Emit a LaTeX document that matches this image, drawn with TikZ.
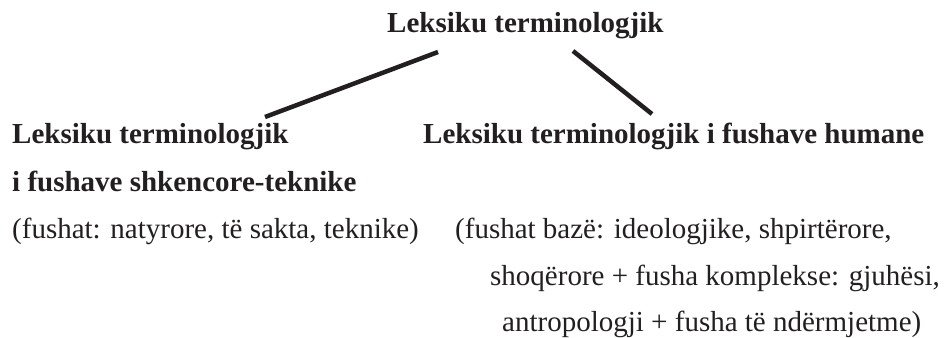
\documentclass[tikz,border=0pt]{standalone}
\usepackage{fontspec}
\setmainfont{Liberation Serif}
\definecolor{ink}{HTML}{231F20}
\begin{document}
\begin{tikzpicture}[x=1pt,y=-1pt,
  txt/.style={anchor=base west, inner sep=0pt, text=ink, font=\fontsize{29}{34}\selectfont},
  head/.style={txt, font=\fontsize{29}{34}\selectfont\bfseries},
  link/.style={draw=ink, line width=4.5pt}]
\useasboundingbox (0,0) rectangle (944,337);

% root
\node[head] (root) at (387,33) {Leksiku terminologjik};

% left branch
\node[head] (lh1) at (12,143) {Leksiku terminologjik};
\node[head] (lh2) at (12,191) {i fushave shkencore-teknike};
\node[txt]  (lsub) at (12,238) {(fushat: natyrore, të sakta, teknike)};

% right branch
\node[head] (rh) at (423,143) {Leksiku terminologjik i fushave humane};
\node[txt]  (r1) at (455,238) {(fushat bazë: ideologjike, shpirtërore,};
\node[txt]  (r2) at (490,285) {shoqërore + fusha komplekse: gjuhësi,};
\node[txt]  (r3) at (502,331) {antropologji + fusha të ndërmjetme)};

% connector ends
\coordinate (la) at (438,52);
\coordinate (lb) at (265,117);
\coordinate (ra) at (573,51);
\coordinate (rb) at (652,114);

\draw[link] (la) -- (lb);
\draw[link] (ra) -- (rb);
\end{tikzpicture}
\end{document}
